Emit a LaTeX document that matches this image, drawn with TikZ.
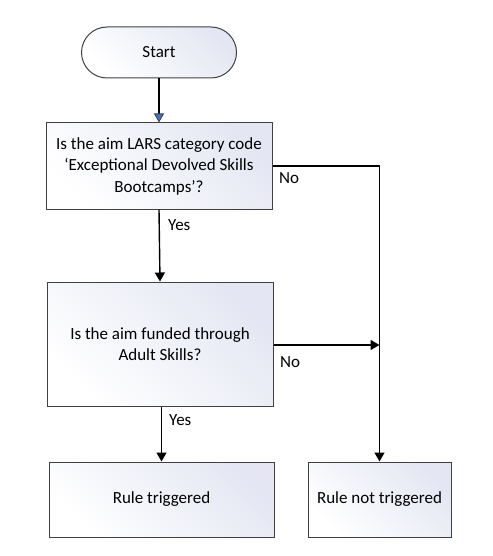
\documentclass[tikz,border=0pt]{standalone}
\usepackage{fontspec}
\setmainfont{Carlito}
\usetikzlibrary{arrows.meta,positioning,shapes.misc}
\definecolor{boxline}{HTML}{404040}
\definecolor{shadea}{HTML}{E4E7F3}
\definecolor{arrowblue}{HTML}{4472C4}
\begin{document}
\begin{tikzpicture}[x=1pt,y=-1pt,
  font=\fontsize{17}{21.5}\selectfont,
  boxshade/.style={draw=boxline, line width=1pt, left color=shadea, right color=white, shading angle=-45, inner sep=0pt, align=center},
  procbox/.style={boxshade, rectangle},
  startbox/.style={boxshade, rounded rectangle},
  conn/.style={line width=1.4pt, black},
  arr/.style={conn, -{Triangle[length=9pt,width=10pt]}},
  lbl/.style={inner sep=0pt, anchor=west}
]
\useasboundingbox (0,0) rectangle (492,556);
\node[startbox, minimum width=155pt, minimum height=51pt] (start) at (159,52.5) {Start};
\node[procbox, minimum width=226pt, minimum height=86pt] (b1) at (159,166) {Is the aim LARS category code\\‘Exceptional Devolved Skills\\Bootcamps’?};
\node[procbox, minimum width=226pt, minimum height=124pt] (b2) at (160,344) {Is the aim funded through\\Adult Skills?};
\node[procbox, minimum width=225pt, minimum height=75pt] (b3) at (161.5,499.5) {Rule triggered};
\node[procbox, minimum width=143pt, minimum height=75pt] (b4) at (379.5,499.5) {Rule not triggered};
\coordinate (c1) at (379.5,166);
\coordinate (c2) at (379.5,345);
\draw[conn, -{Triangle[length=9pt,width=10pt,fill=arrowblue,color=boxline,line width=0.8pt]}] (start.south) -- (b1.north);
\draw[arr] (b1.south) -- (b2.north);
\draw[arr] (b3.north |- b2.south) -- (b3.north);
\draw[arr] (b1.east) -- (c1) -- (b4.north);
\draw[arr] (b2.east |- c2) -- (c2);
\node[lbl] (no1) at (279,178) {No};
\node[lbl] (yes1) at (168,225) {Yes};
\node[lbl] (no2) at (280,362) {No};
\node[lbl] (yes2) at (169,420) {Yes};
\end{tikzpicture}
\end{document}
